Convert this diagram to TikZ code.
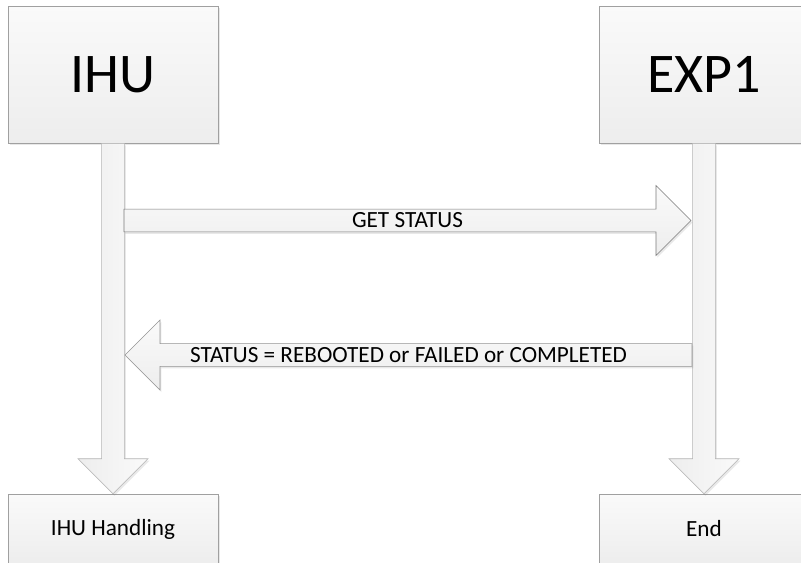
\documentclass[tikz,border=0pt]{standalone}
\usepackage{fontspec}
\setmainfont{Carlito}
\usepackage{tikz}
\usetikzlibrary{calc,shadows}
\definecolor{boxline}{HTML}{A0A0A0}
\definecolor{lifeline}{HTML}{B4B4B4}
\definecolor{msgline}{HTML}{7A7A7A}
% half shaft width, half head width, head length
\newcommand{\shaftw}{8.6pt}
\newcommand{\headw}{26.25pt}
\newcommand{\headlen}{26.25pt}
% block arrow: [style]{from}{to}{label}
\newcommand{\fatarrow}[4][]{%
  \coordinate (fa-base) at ($(#3)!\headlen!(#2)$);
  \draw[fat,#1] ($(#2)!\shaftw!90:(#3)$) -- ($(fa-base)!\shaftw!90:(#3)$)
     -- ($(fa-base)!\headw!90:(#3)$) -- (#3) -- ($(fa-base)!\headw!-90:(#3)$)
     -- ($(fa-base)!\shaftw!-90:(#3)$) -- ($(#2)!\shaftw!-90:(#3)$) -- cycle;
  \path (#2) -- node[msg] {#4} (#3);
}

\begin{document}
\begin{tikzpicture}[x=0.75pt,y=-0.75pt,
    box/.style={draw=boxline,top color=white!98!black,bottom color=white!93!black,
      drop shadow={opacity=0.18,shadow xshift=1.2pt,shadow yshift=-1.5pt},
      minimum width=157.5pt,inner sep=0pt},
    actor/.style={box,minimum height=102.75pt,font=\fontsize{42}{48}\selectfont},
    final/.style={box,minimum height=52.5pt,font=\fontsize{17.4}{21}\selectfont},
    fat/.style={draw=lifeline,top color=white!98!black,bottom color=white!93!black,
      drop shadow={opacity=0.18,shadow xshift=1pt,shadow yshift=-1.5pt}},
    life/.style={left color=white!93!black,right color=white!98!black},
    call/.style={draw=msgline},
    reply/.style={draw=black!42},
    msg/.style={font=\fontsize{17.4}{21}\selectfont,inner sep=0pt}]
  \fill[white] (0,0) rectangle (801,562);
  \useasboundingbox (0,0) rectangle (801,562);

  % actors
  \node[actor] (ihu) at (113,74.5) {IHU};
  \node[actor] (exp) at (704,74.5) {EXP1};
  \node[final] (ihuend) at (113,529) {IHU Handling};
  \node[final] (expend) at (704,529) {End};

  % lifelines
  \fatarrow[life]{ihu.south}{ihuend.north}{}
  \fatarrow[life]{exp.south}{expend.north}{}

  % messages
  \coordinate (get-a) at (124,220.5);
  \coordinate (get-b) at (691,220.5);
  \coordinate (st-a) at (692,355);
  \coordinate (st-b) at (125,355);
  \fatarrow[call]{get-a}{get-b}{GET STATUS}
  \fatarrow[reply]{st-a}{st-b}{STATUS = REBOOTED or FAILED or COMPLETED}
\end{tikzpicture}
\end{document}
